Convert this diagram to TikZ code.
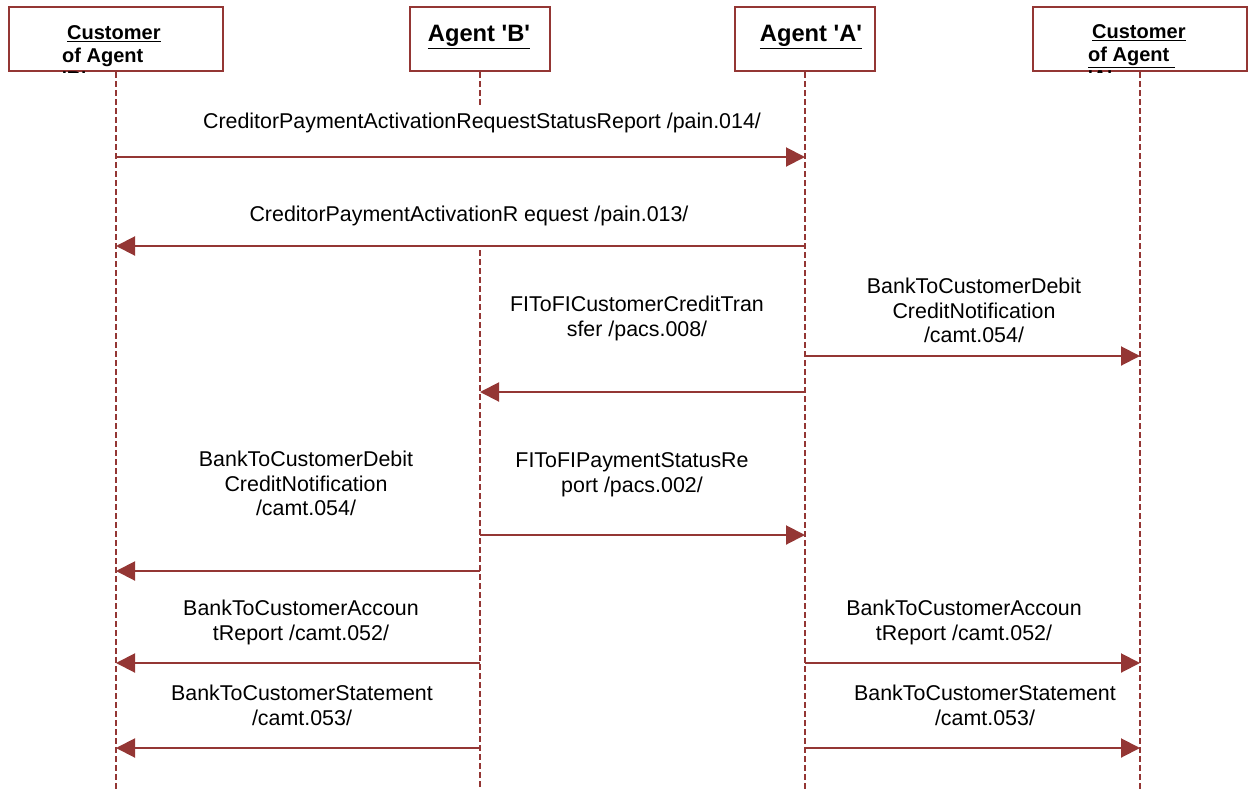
\documentclass[tikz,border=0pt]{standalone}
\usepackage{fontspec}
\setmainfont{Liberation Sans}
\usetikzlibrary{arrows.meta}
\definecolor{seqred}{HTML}{943634}

\begin{document}
\begin{tikzpicture}[x=1pt, y=-1pt,
  head/.style={draw=seqred, line width=2pt, fill=white, minimum width=140pt,
    minimum height=64pt, inner sep=0pt},
  custhead/.style={head, minimum width=214pt},
  headtxt/.style={font=\fontsize{20}{23}\selectfont\bfseries, align=left, inner sep=0pt},
  life/.style={seqred, line width=1.8pt, dash pattern=on 6pt off 3pt},
  msg/.style={seqred, line width=2pt, -{Triangle[length=19pt, width=19pt]}},
  lbl/.style={font=\fontsize{21.4}{24.5}\selectfont, align=center, inner sep=0pt}]
  \useasboundingbox (0,0) rectangle (1254,790);

  % lifeline heads
  \node[custhead] (custB) at (116,39) {};
  \node[head] (agB) at (480,39) {};
  \node[head] (agA) at (805,39) {};
  \node[custhead] (custA) at (1140,39) {};
  \node[font=\fontsize{23.7}{26}\selectfont\bfseries, inner sep=0pt] (agBtxt) at (479,37)
    {\underline{Agent \textquotesingle B\textquotesingle}};
  \node[font=\fontsize{23.7}{26}\selectfont\bfseries, inner sep=0pt] (agAtxt) at (811,37)
    {\underline{Agent \textquotesingle A\textquotesingle}};
  \begin{scope}
    \clip (0,0) rectangle (1254,72.5);
    \node[headtxt, anchor=north west] (custBtxt) at (62,25)
      {\hspace{5pt}\underline{Customer}\\of Agent\\\underline{\textquotesingle B\textquotesingle}};
    \node[headtxt, anchor=north west] (custAtxt) at (1088,24.5)
      {\hspace{4pt}\underline{Customer}\\\underline{of Agent\ }\\\underline{\textquotesingle A\textquotesingle}};
  \end{scope}

  % lifelines
  \foreach \n in {custB, agA, custA}
    \draw[life] (\n.south) -- (\n |- 0,790);
  \draw[life] (agB.south) -- (agB |- 0,107);
  \draw[life] (agB |- 0,250) -- (agB |- 0,790);

  % messages
  \foreach \from/\to/\y in {custB/agA/157, agA/custB/246, agA/custA/356, agA/agB/392,
      agB/agA/535, agB/custB/571, agB/custB/663, agA/custA/663, agB/custB/748, agA/custA/748}
    \draw[msg] (\from |- 0,\y) -- (\to |- 0,\y);

  % message labels
  \node[lbl] (m1) at (482,123) {CreditorPaymentActivationRequestStatusReport /pain.014/};
  \node[lbl] (m2) at (469,216) {CreditorPaymentActivationR equest /pain.013/};
  \node[lbl] (m3) at (637,318.5) {FIToFICustomerCreditTran\\sfer /pacs.008/};
  \node[lbl] (m4) at (974,310.5) {BankToCustomerDebit\\CreditNotification\\/camt.054/};
  \node[lbl] (m5) at (632,474.5) {FIToFIPaymentStatusRe\\port /pacs.002/};
  \node[lbl] (m6) at (306,483.5) {BankToCustomerDebit\\CreditNotification\\/camt.054/};
  \node[lbl] (m7) at (301,622.5) {BankToCustomerAccoun\\tReport /camt.052/};
  \node[lbl] (m8) at (964,622.5) {BankToCustomerAccoun\\tReport /camt.052/};
  \node[lbl] (m9) at (302,705.5) {BankToCustomerStatement\\/camt.053/};
  \node[lbl] (m10) at (985,705.5) {BankToCustomerStatement\\/camt.053/};
\end{tikzpicture}
\end{document}
